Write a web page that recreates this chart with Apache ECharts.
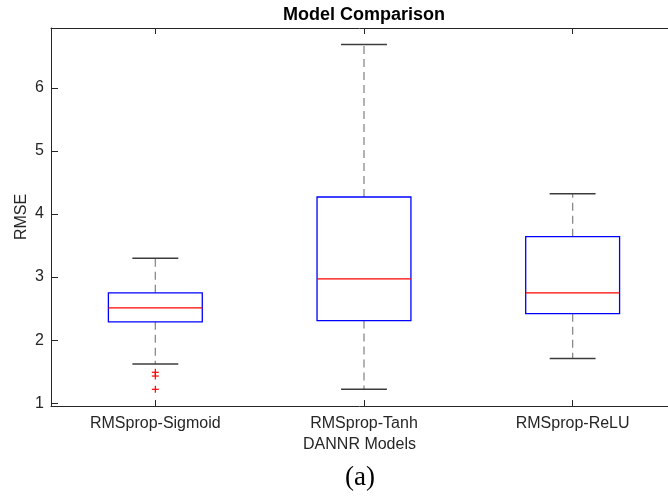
<!DOCTYPE html>
<html><head><meta charset="utf-8">
<script src="https://cdn.jsdelivr.net/npm/echarts@6/dist/echarts.min.js"></script>
<style>html,body{margin:0;padding:0;background:#fff}#c{width:668px;height:496px}</style>
</head><body><div id="c"></div>
<script>
const categories = ['RMSprop-Sigmoid', 'RMSprop-Tanh', 'RMSprop-ReLU'];
const lowerWhisker = [1.62, 1.22, 1.71];
const q1 = [2.29, 2.31, 2.42];
const medians = [2.51, 2.97, 2.75];
const q3 = [2.75, 4.27, 3.64];
const upperWhisker = [3.30, 6.69, 4.32];
const outliers = [[0, 1.49], [0, 1.43], [0, 1.22]];
const yTicks = [1, 2, 3, 4, 5, 6];
const xTicks = [0, 1, 2];

const boxData = categories.map((c, i) => [i, lowerWhisker[i], q1[i], medians[i], q3[i], upperWhisker[i]]);
const axisColor = '#262626';
const font = 'Liberation Sans, Arial, Helvetica, sans-serif';

const chart = echarts.init(document.getElementById('c'), null, {renderer: 'canvas'});
chart.setOption({
  animation: false,
  backgroundColor: '#fff',
  grid: {left: 51, top: 28, right: 0, height: 378},
  xAxis: [{
    type: 'value', min: -0.5, max: 2.457, position: 'bottom',
    axisLine: {show: true, onZero: false, lineStyle: {color: axisColor, width: 1}},
    axisTick: {show: true, inside: true, length: 6, customValues: xTicks, lineStyle: {color: axisColor}},
    axisLabel: {color: axisColor, fontSize: 16, fontFamily: font, margin: 10, customValues: xTicks,
      formatter: v => categories[Math.round(v)]},
    name: 'DANNR Models', nameLocation: 'middle', nameGap: 31,
    nameTextStyle: {color: axisColor, fontSize: 16, fontFamily: font},
    splitLine: {show: false}
  }, {
    type: 'value', min: -0.5, max: 2.457, position: 'top',
    axisLine: {show: true, onZero: false, lineStyle: {color: axisColor, width: 1}},
    axisTick: {show: true, inside: true, length: 6, customValues: xTicks, lineStyle: {color: axisColor}},
    axisLabel: {show: false}, splitLine: {show: false}
  }],
  yAxis: {
    type: 'value', min: 0.955, max: 6.95,
    axisLine: {show: true, onZero: false, lineStyle: {color: axisColor, width: 1}},
    axisTick: {show: true, inside: true, length: 7, customValues: yTicks, lineStyle: {color: axisColor}},
    axisLabel: {color: axisColor, fontSize: 16, fontFamily: font, margin: 7, customValues: yTicks},
    splitLine: {show: false}
  },
  graphic: [
    {type: 'text', x: 364, y: 15, style: {text: 'Model Comparison', fill: '#000', font: 'bold 18px ' + font, textAlign: 'center', textVerticalAlign: 'middle'}},
    {type: 'text', x: 22, y: 217, rotation: Math.PI / 2, style: {text: 'RMSE', fill: axisColor, font: '16px ' + font, textAlign: 'center', textVerticalAlign: 'middle'}},
    {type: 'text', x: 360, y: 478, style: {text: '(a)', fill: '#000', font: '27px "Liberation Serif", "Times New Roman", serif', textAlign: 'center', textVerticalAlign: 'middle'}}
  ],
  series: [{
    type: 'custom',
    data: boxData,
    renderItem: function (params, api) {
      const i = api.value(0);
      const band = api.size([1, 0])[0];
      const hw = band * 0.225, cw = band * 0.11;
      const pLo = api.coord([i, api.value(1)]);
      const pQ1 = api.coord([i, api.value(2)]);
      const pMed = api.coord([i, api.value(3)]);
      const pQ3 = api.coord([i, api.value(4)]);
      const pHi = api.coord([i, api.value(5)]);
      const x = pQ1[0];
      const dash = {stroke: '#8a8a8a', lineWidth: 1.3, lineDash: [8, 5]};
      const cap = {stroke: '#3c3c3c', lineWidth: 1.5};
      return {type: 'group', children: [
        {type: 'line', shape: {x1: x, y1: pQ3[1], x2: x, y2: pHi[1]}, style: dash},
        {type: 'line', shape: {x1: x, y1: pQ1[1], x2: x, y2: pLo[1]}, style: dash},
        {type: 'line', shape: {x1: x - cw, y1: pHi[1], x2: x + cw, y2: pHi[1]}, style: cap},
        {type: 'line', shape: {x1: x - cw, y1: pLo[1], x2: x + cw, y2: pLo[1]}, style: cap},
        {type: 'rect', shape: {x: x - hw, y: pQ3[1], width: 2 * hw, height: pQ1[1] - pQ3[1]}, style: {fill: null, stroke: '#0000ff', lineWidth: 1.3}},
        {type: 'line', shape: {x1: x - hw, y1: pMed[1], x2: x + hw, y2: pMed[1]}, style: {stroke: '#ff0000', lineWidth: 1.2}}
      ]};
    }
  }, {
    type: 'custom',
    data: outliers,
    renderItem: function (params, api) {
      const p = api.coord([api.value(0), api.value(1)]);
      const s = 3.5;
      const st = {stroke: '#ff0000', lineWidth: 1.2};
      return {type: 'group', children: [
        {type: 'line', shape: {x1: p[0] - s, y1: p[1], x2: p[0] + s, y2: p[1]}, style: st},
        {type: 'line', shape: {x1: p[0], y1: p[1] - s, x2: p[0], y2: p[1] + s}, style: st}
      ]};
    }
  }]
});
</script>
</body></html>
